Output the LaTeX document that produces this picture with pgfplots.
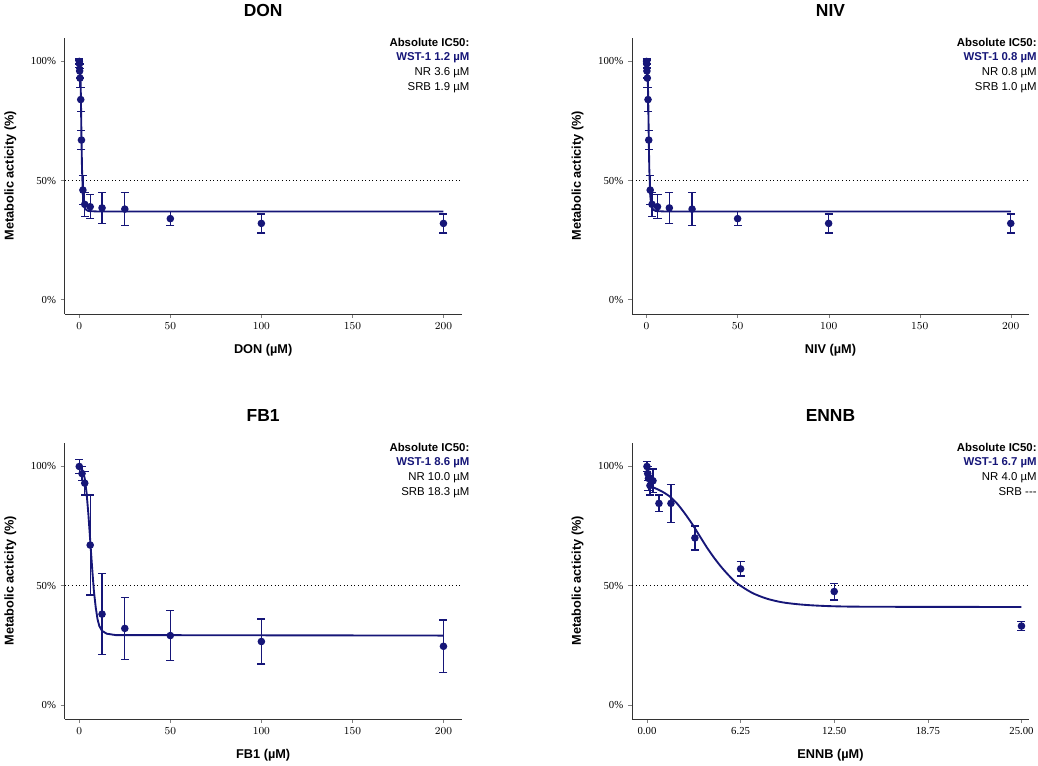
\documentclass[border=0pt]{standalone}
\usepackage{pgfplots}
\pgfplotsset{compat=1.18}
\usepgfplotslibrary{groupplots}
\usepackage{fontspec}
\setmainfont{Liberation Sans}
\newfontfamily\serif{Liberation Serif}
\definecolor{nv}{RGB}{22,22,120}
\pgfplotsset{
 myax/.style={
  scale only axis, width=296pt, height=206pt,
  axis x line*=bottom, axis y line*=left,
  ymin=-6, ymax=110, ytick={0,50,100}, yticklabels={0\%,50\%,100\%},
  tick align=outside, tick pos=left, major tick length=3pt,
  ticklabel style={font=\serif\fontsize{8}{8}\selectfont},
  title style={font=\bfseries\fontsize{13}{13}\selectfont, yshift=6pt},
  xlabel style={font=\bfseries\fontsize{9.5}{10}\selectfont, yshift=-4pt},
  ylabel style={font=\bfseries\fontsize{9.5}{10}\selectfont, yshift=4pt},
  ylabel={Metabolic acticity (\%)},
  axis line style={black!80, line width=0.5pt},
  clip=false,
 },
 pts/.style={only marks, mark=*, mark size=2.3pt, nv, line width=1pt,
   error bars/.cd, y dir=both, y explicit, error mark options={rotate=90, mark size=3pt, line width=1pt, nv}, error bar style={line width=1pt,nv}},
 fit/.style={nv, line width=1.4pt, no marks},
 half/.style={dotted, black, line width=0.7pt, no marks},
}
\newcommand{\ann}[3]{\node[anchor=north east, align=right, font=\fontsize{8.5}{11}\selectfont, inner sep=0pt] at (rel axis cs:1.02,1.0) {\textbf{Absolute IC50:}\\ \textcolor{nv}{\textbf{WST-1 #1}}\\ NR #2\\ SRB #3};}
\begin{document}
\begin{tikzpicture}
\begin{groupplot}[group style={group size=2 by 2, horizontal sep=127pt, vertical sep=96pt}, myax]
\nextgroupplot[title={DON}, xlabel={DON (µM)}, xmin=-8, xmax=210, xtick={0,50,100,150,200}]
\addplot[half] coordinates {(-8,50) (210,50)};
\addplot[fit] coordinates {(0,100) (0.3,99) (0.6,95) (0.9,85) (1.2,68) (1.5,55) (2,44) (2.5,40) (3,38.5) (4,37.6) (5,37.2) (10,37) (200,37)};
\addplot[pts] coordinates {(0,100)+-(0,1) (0.1,99)+-(0,1.5) (0.2,96)+-(0,3) (0.4,93)+-(0,4) (0.8,84)+-(0,5) (1.2,67)+-(0,4) (2,46)+-(0,6) (3,40)+-(0,5) (6,39)+-(0,5) (12.5,38.5)+-(0,6.5) (25,38)+-(0,7) (50,34)+-(0,3) (100,32)+-(0,4) (200,32)+-(0,4)};
\ann{1.2 µM}{3.6 µM}{1.9 µM}
\nextgroupplot[title={NIV}, xlabel={NIV (µM)}, xmin=-8, xmax=210, xtick={0,50,100,150,200}]
\addplot[half] coordinates {(-8,50) (210,50)};
\addplot[fit] coordinates {(0,100) (0.3,99) (0.6,95) (0.9,85) (1.2,68) (1.5,55) (2,44) (2.5,40) (3,38.5) (4,37.6) (5,37.2) (10,37) (200,37)};
\addplot[pts] coordinates {(0,100)+-(0,1) (0.1,99)+-(0,1.5) (0.2,96)+-(0,3) (0.4,93)+-(0,4) (0.8,84)+-(0,5) (1.2,67)+-(0,4) (2,46)+-(0,6) (3,40)+-(0,5) (6,39)+-(0,5) (12.5,38.5)+-(0,6.5) (25,38)+-(0,7) (50,34)+-(0,3) (100,32)+-(0,4) (200,32)+-(0,4)};
\ann{0.8 µM}{0.8 µM}{1.0 µM}
\nextgroupplot[title={FB1}, xlabel={FB1 (µM)}, xmin=-8, xmax=210, xtick={0,50,100,150,200}]
\addplot[half] coordinates {(-8,50) (210,50)};
\addplot[fit] coordinates {(0,100) (1,99.5) (2,98) (3,95) (4,89) (5,80) (6,69) (7,58) (8,48) (9,41) (10,36) (11,33) (12.5,31) (15,29.8) (20,29.2) (200,29)};
\addplot[pts] coordinates {(0,100)+-(0,3) (1.5,97)+-(0,3) (3,93)+-(0,5) (6,67)+-(0,21) (12.5,38)+-(0,17) (25,32)+-(0,13) (50,29)+-(0,10.5) (100,26.5)+-(0,9.5) (200,24.5)+-(0,11)};
\ann{8.6 µM}{10.0 µM}{18.3 µM}
\nextgroupplot[title={ENNB}, xlabel={ENNB (µM)}, xmin=-1, xmax=25.5, xtick={0,6.25,12.5,18.75,25}, xticklabels={0.00,6.25,12.50,18.75,25.00}]
\addplot[half] coordinates {(-1,50) (25.5,50)};
\addplot[fit, smooth] coordinates {(0,92) (0.5,91) (1,89.5) (1.5,87.5) (2,84.5) (2.5,80.5) (3,76) (3.5,71) (4,66) (4.5,61.5) (5,57.5) (5.5,54) (6,51) (7,47) (8,44.5) (9,43) (10,42.2) (11,41.7) (12.5,41.3) (15,41.1) (25,41)};
\addplot[pts] coordinates {(0,100)+-(0,2) (0.05,97)+-(0,3) (0.1,95)+-(0,5) (0.2,92)+-(0,4) (0.4,94)+-(0,5) (0.8,84.5)+-(0,3.5) (1.6,84.5)+-(0,8) (3.2,70)+-(0,5) (6.25,57)+-(0,3) (12.5,47.5)+-(0,3.5) (25,33)+-(0,2)};
\ann{6.7 µM}{4.0 µM}{{-}{-}{-}\hspace{1.5em}}
\end{groupplot}
\end{tikzpicture}
\end{document}
